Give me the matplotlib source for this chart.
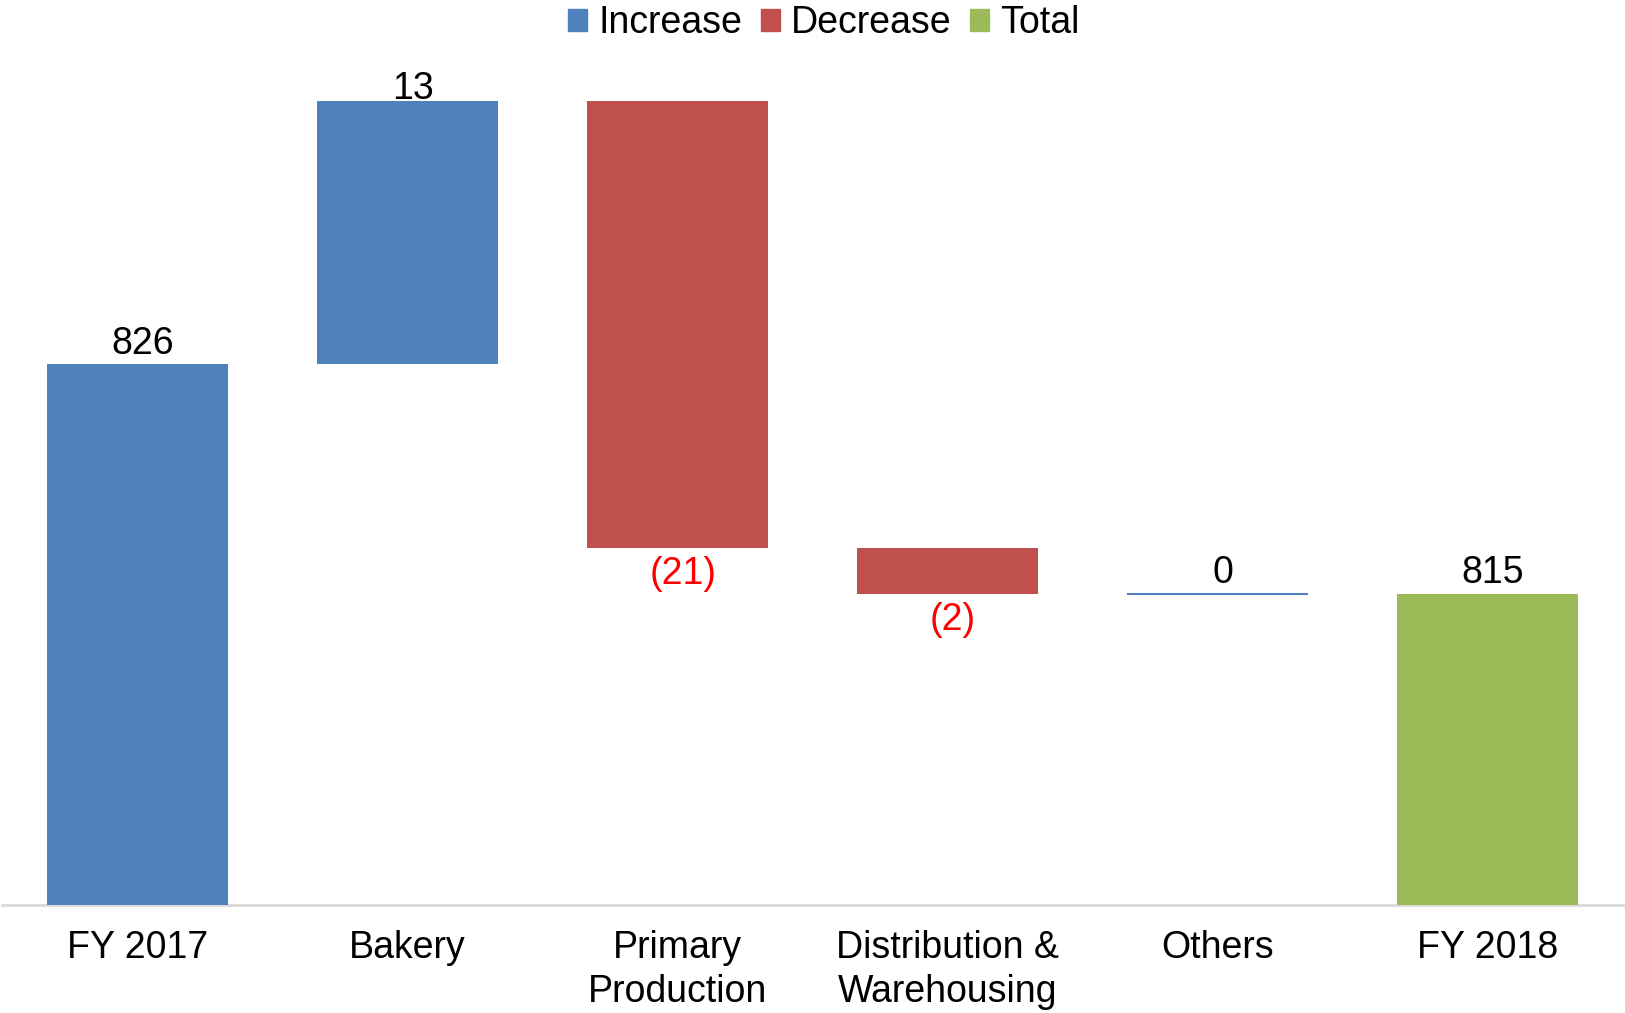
import matplotlib.pyplot as plt
from matplotlib.patches import Patch

plt.rcParams['font.family'] = ['Liberation Sans', 'DejaVu Sans']

# waterfall data
categories = ['FY 2017', 'Bakery', 'Primary\nProduction', 'Distribution &\nWarehousing', 'Others', 'FY 2018']
start_value = 825.9
changes = [12.6, -21.4, -2.2, 0.0]

blue = '#4F81BD'
red = '#C0504D'
green = '#9BBB59'
fs = 27

total = start_value + sum(changes)

fig = plt.figure(figsize=(16.25, 10.13), dpi=100)
ax = fig.add_axes([0.0015, 0.1066, 0.997, 0.8934])

# start bar
ax.bar(0, start_value, width=0.67, color=blue)
ax.annotate(f'{start_value:.0f}', (0, start_value), xytext=(4, 2), textcoords='offset points',
            ha='center', va='bottom', fontsize=fs)

running = start_value
for i, ch in enumerate(changes, start=1):
    if ch > 0:
        ax.bar(i, ch, bottom=running, width=0.67, color=blue)
        ax.annotate(f'{ch:.0f}', (i, running + ch), xytext=(4, -4), textcoords='offset points',
                    ha='center', va='bottom', fontsize=fs)
    elif ch < 0:
        ax.bar(i, ch, bottom=running, width=0.67, color=red)
        ax.annotate(f'({-ch:.0f})', (i, running + ch), xytext=(4, -6), textcoords='offset points',
                    ha='center', va='top', fontsize=fs, color='#FF0000')
    else:
        ax.hlines(running, i - 0.335, i + 0.335, color=blue, lw=1.5)
        ax.annotate('0', (i, running), xytext=(4, 2), textcoords='offset points',
                    ha='center', va='bottom', fontsize=fs)
    running += ch

ax.bar(5, total, width=0.67, color=green)
ax.annotate(f'{total:.0f}', (5, total), xytext=(4, 2), textcoords='offset points',
            ha='center', va='bottom', fontsize=fs)

ax.set_xlim(-0.5, 5.5)
ax.set_ylim(800, 843.36)
ax.set_xticks(range(len(categories)))
ax.set_xticklabels(categories, fontsize=fs, linespacing=1.3)
ax.tick_params(axis='x', length=0, pad=18)
ax.set_yticks([])
for s in ['top', 'left', 'right']:
    ax.spines[s].set_visible(False)
ax.spines['bottom'].set_color('#d9d9d9')
ax.spines['bottom'].set_linewidth(2)
ax.spines['bottom'].set_zorder(0)

handles = [Patch(color=blue, label='Increase'), Patch(color=red, label='Decrease'),
           Patch(color=green, label='Total')]
fig.legend(handles=handles, loc='upper center', bbox_to_anchor=(0.507, 1.028), ncol=3,
           frameon=False, fontsize=fs, handlelength=0.5, handleheight=0.5,
           handletextpad=0.3, columnspacing=0.5)

fig.savefig('out.png', dpi=100)
